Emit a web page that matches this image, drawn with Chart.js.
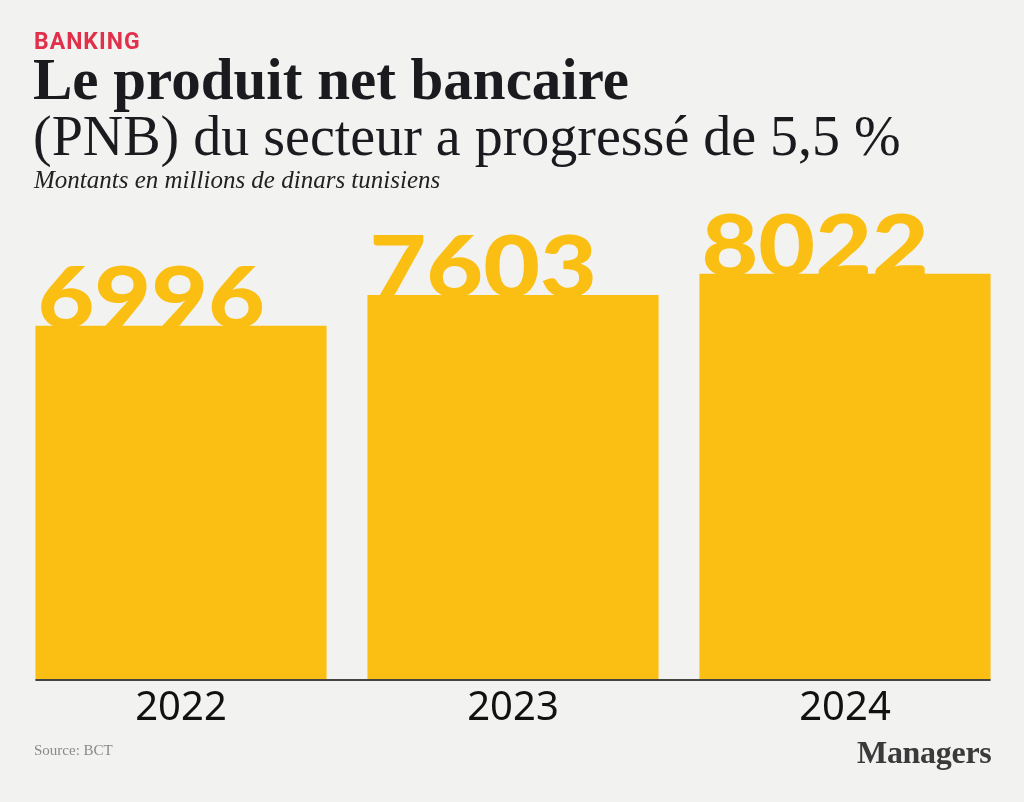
<!DOCTYPE html>
<html lang='fr'>

<head>
  <meta charset='UTF-8'>
  <title>Le produit net bancaire</title>
  <style>
    html, body {
      margin: 0;
      padding: 0;
      background: #f2f2f1;
    }

    #page {
      position: relative;
      width: 1024px;
      height: 802px;
      overflow: hidden;
    }

    #chart {
      position: absolute;
      left: 0;
      top: 0;
    }

    .kicker {
      position: absolute;
      left: 34px;
      top: 28px;
      font: bold 23px Roboto, sans-serif;
      color: #e0304a;
      letter-spacing: 1px;
    }

    .title {
      position: absolute;
      left: 33px;
      top: 45px;
      font: bold 59px 'Liberation Serif', serif;
      color: #1b1b1f;
      white-space: nowrap;
    }

    .subtitle {
      position: absolute;
      left: 33px;
      top: 104px;
      font: 56px 'Liberation Serif', serif;
      color: #1b1b1f;
      white-space: nowrap;
    }

    .note {
      position: absolute;
      left: 34px;
      top: 166px;
      font: italic 25px 'Liberation Serif', serif;
      color: #222;
      white-space: nowrap;
    }

    .source {
      position: absolute;
      left: 34px;
      top: 742px;
      font: 15px 'Liberation Serif', serif;
      color: #8a8a8a;
    }

    .logo {
      position: absolute;
      left: 857px;
      top: 734px;
      font: bold 32px 'Liberation Serif', serif;
      color: #3a3a3a;
      letter-spacing: -0.3px;
    }
  </style>
</head>

<body>
<div id="page">
  <canvas id="chart" width="1024" height="802"></canvas>
  <div class="kicker">BANKING</div>
  <div class="title">Le produit net bancaire</div>
  <div class="subtitle">(PNB) du secteur a progressé de 5,5 %</div>
  <div class="note">Montants en millions de dinars tunisiens</div>
  <div class="source">Source: BCT</div>
  <div class="logo">Managers</div>
</div>

<script src="https://cdn.jsdelivr.net/npm/chart.js@4.4.1/dist/chart.umd.min.js"></script>
<script>
  const years = ['2022', '2023', '2024'];
  const pnb = [6996, 7603, 8022];

  const yellow = '#fbbf14';

  // big numbers sitting on top of each bar, left aligned
  const valueLabels = {
    id: 'valueLabels',
    afterDatasetsDraw(chart) {
      const ctx = chart.ctx;
      const bars = chart.getDatasetMeta(0).data;
      ctx.save();
      ctx.fillStyle = yellow;
      ctx.font = '900 86px Lato, sans-serif';
      ctx.textBaseline = 'alphabetic';
      ctx.textAlign = 'left';
      bars.forEach((bar, i) => {
        const left = bar.x - bar.width / 2;
        // the lettering in the original is a bit wider than Lato
        ctx.save();
        ctx.translate(left + 2, bar.y + 2);
        ctx.scale(1.14, 1);
        ctx.fillText(String(pnb[i]), 0, 0);
        ctx.restore();
      });
      ctx.restore();
    }
  };

  // dark baseline under the bars
  const baseline = {
    id: 'baseline',
    afterDatasetsDraw(chart) {
      const bars = chart.getDatasetMeta(0).data;
      const first = bars[0], last = bars[bars.length - 1];
      const y = chart.scales.y.getPixelForValue(0);
      const ctx = chart.ctx;
      ctx.save();
      ctx.strokeStyle = '#444';
      ctx.lineWidth = 2;
      ctx.beginPath();
      ctx.moveTo(first.x - first.width / 2, y);
      ctx.lineTo(last.x + last.width / 2, y);
      ctx.stroke();
      ctx.restore();
    }
  };

  const ctx = document.getElementById('chart').getContext('2d');
  const chart = new Chart(ctx, {
    type: 'bar',
    data: {
      labels: years,
      datasets: [{
        label: 'PNB',
        data: pnb,
        backgroundColor: yellow,
        borderWidth: 0,
        barPercentage: 0.877,
        categoryPercentage: 1
      }]
    },
    options: {
      responsive: false,
      animation: false,
      layout: {
        padding: {left: 15, right: 13, top: 199, bottom: 72}
      },
      plugins: {
        legend: {display: false},
        tooltip: {enabled: false}
      },
      scales: {
        y: {
          display: false,
          min: 0,
          max: 9500
        },
        x: {
          grid: {display: false},
          border: {display: false},
          ticks: {
            color: '#111',
            padding: -3,
            font: {family: "'Noto Sans', sans-serif", size: 40}
          }
        }
      }
    },
    plugins: [valueLabels, baseline]
  });
</script>
</body>

</html>
